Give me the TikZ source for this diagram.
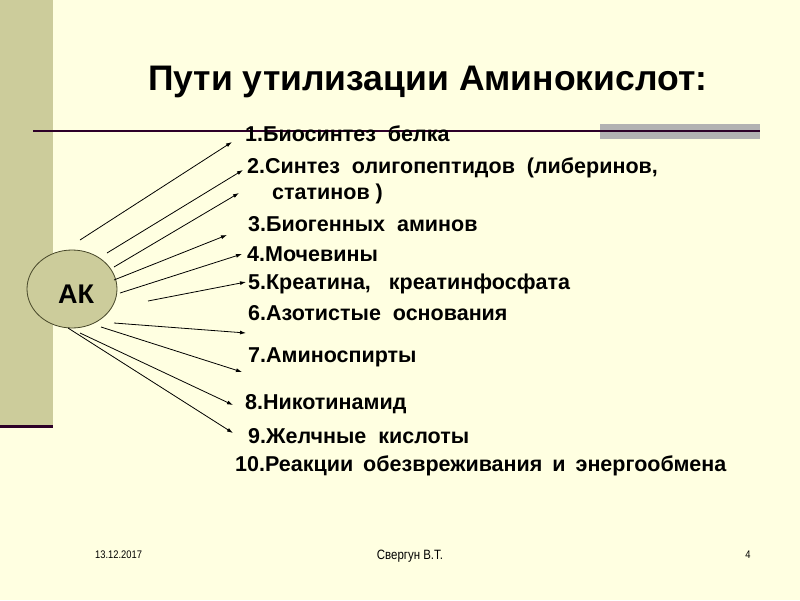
\documentclass[tikz,border=0pt]{standalone}
\usepackage{fontspec}
\setmainfont{Liberation Sans}
\newfontfamily\narrowfont[FakeStretch=0.85]{Liberation Sans}
\usetikzlibrary{arrows.meta,shapes.geometric}
\definecolor{bgc}{RGB}{255,255,225}
\definecolor{stripc}{RGB}{204,204,155}
\definecolor{linec}{RGB}{45,0,40}
\definecolor{greyc}{RGB}{178,178,178}
\definecolor{ellc}{RGB}{70,70,40}
\tikzset{
  lbl/.style={anchor=west,inner sep=0pt,font=\fontsize{21.5}{21.5}\selectfont\bfseries},
  arr/.style={-{Latex[length=6pt,width=4pt]},line width=0.8pt,black},
  foot/.style={inner sep=0pt}
}
\begin{document}
\begin{tikzpicture}[x=1pt,y=-1pt]
\useasboundingbox (0,0) rectangle (800,600);
\fill[bgc] (0,0) rectangle (800,600);
\fill[stripc] (0,0) rectangle (53,425);
\fill[linec] (0,425) rectangle (53,428);
\fill[greyc] (600,124) rectangle (760,139);
\draw[linec,line width=2.2pt] (33,131) -- (760,131);
\node[draw=ellc,fill=stripc,ellipse,minimum width=90pt,minimum height=78pt,inner sep=0pt,line width=0.8pt] (ak) at (72,289) {};
\node[inner sep=0pt,font=\fontsize{27}{27}\selectfont\bfseries] (akt) at (76,294) {АК};
\node[inner sep=0pt,font=\fontsize{35.5}{35.5}\selectfont\bfseries,anchor=west] (title) at (148,82) {Пути утилизации Аминокислот:};
\node[lbl] (t1) at (245,134) {1.Биосинтез\ \ белка};
\node[lbl] (t2) at (247,168) {2.Синтез\ \ олигопептидов\ \ (либеринов,};
\node[lbl] (t2b) at (272,194) {статинов\ )};
\node[lbl] (t3) at (248,224) {3.Биогенных\ \ аминов};
\node[lbl] (t4) at (247,254) {4.Мочевины};
\node[lbl] (t5) at (248,284) {5.Креатина,\ \ \ креатинфосфата};
\node[lbl] (t6) at (248,313) {6.Азотистые\ \ основания};
\node[lbl] (t7) at (248,357) {7.Аминоспирты};
\node[lbl] (t8) at (245,404) {8.Никотинамид};
\node[lbl] (t9) at (248,436) {9.Желчные\ \ кислоты};
\node[lbl] (t10) at (235,466) {10.Реакции\hspace{10pt}обезвреживания\hspace{10pt}и\hspace{10pt}энергообмена};
\coordinate (s1) at (80,240);  \coordinate (e1) at (232,142);
\coordinate (s2) at (107,253); \coordinate (e2) at (243,170);
\coordinate (s3) at (114,267); \coordinate (e3) at (239,193);
\coordinate (s4) at (114,280); \coordinate (e4) at (227,235);
\coordinate (s5) at (120,293); \coordinate (e5) at (242,254);
\coordinate (s6) at (148,301); \coordinate (e6) at (246,282);
\coordinate (s7) at (114,323); \coordinate (e7) at (246,333);
\coordinate (s8) at (101,327); \coordinate (e8) at (242,372);
\coordinate (s9) at (80,333);  \coordinate (e9) at (233,405);
\coordinate (s10) at (68,328); \coordinate (e10) at (233,433);
\foreach \i in {1,...,10} {\draw[arr] (s\i) -- (e\i);}
\node[foot,anchor=west,font=\narrowfont\fontsize{11}{11}\selectfont] (date) at (95,555) {13.12.2017};
\node[foot,font=\narrowfont\fontsize{13.5}{13.5}\selectfont] (auth) at (410,556) {Свергун В.Т.};
\node[foot,font=\narrowfont\fontsize{11}{11}\selectfont] (pg) at (748,555) {4};
\end{tikzpicture}
\end{document}
